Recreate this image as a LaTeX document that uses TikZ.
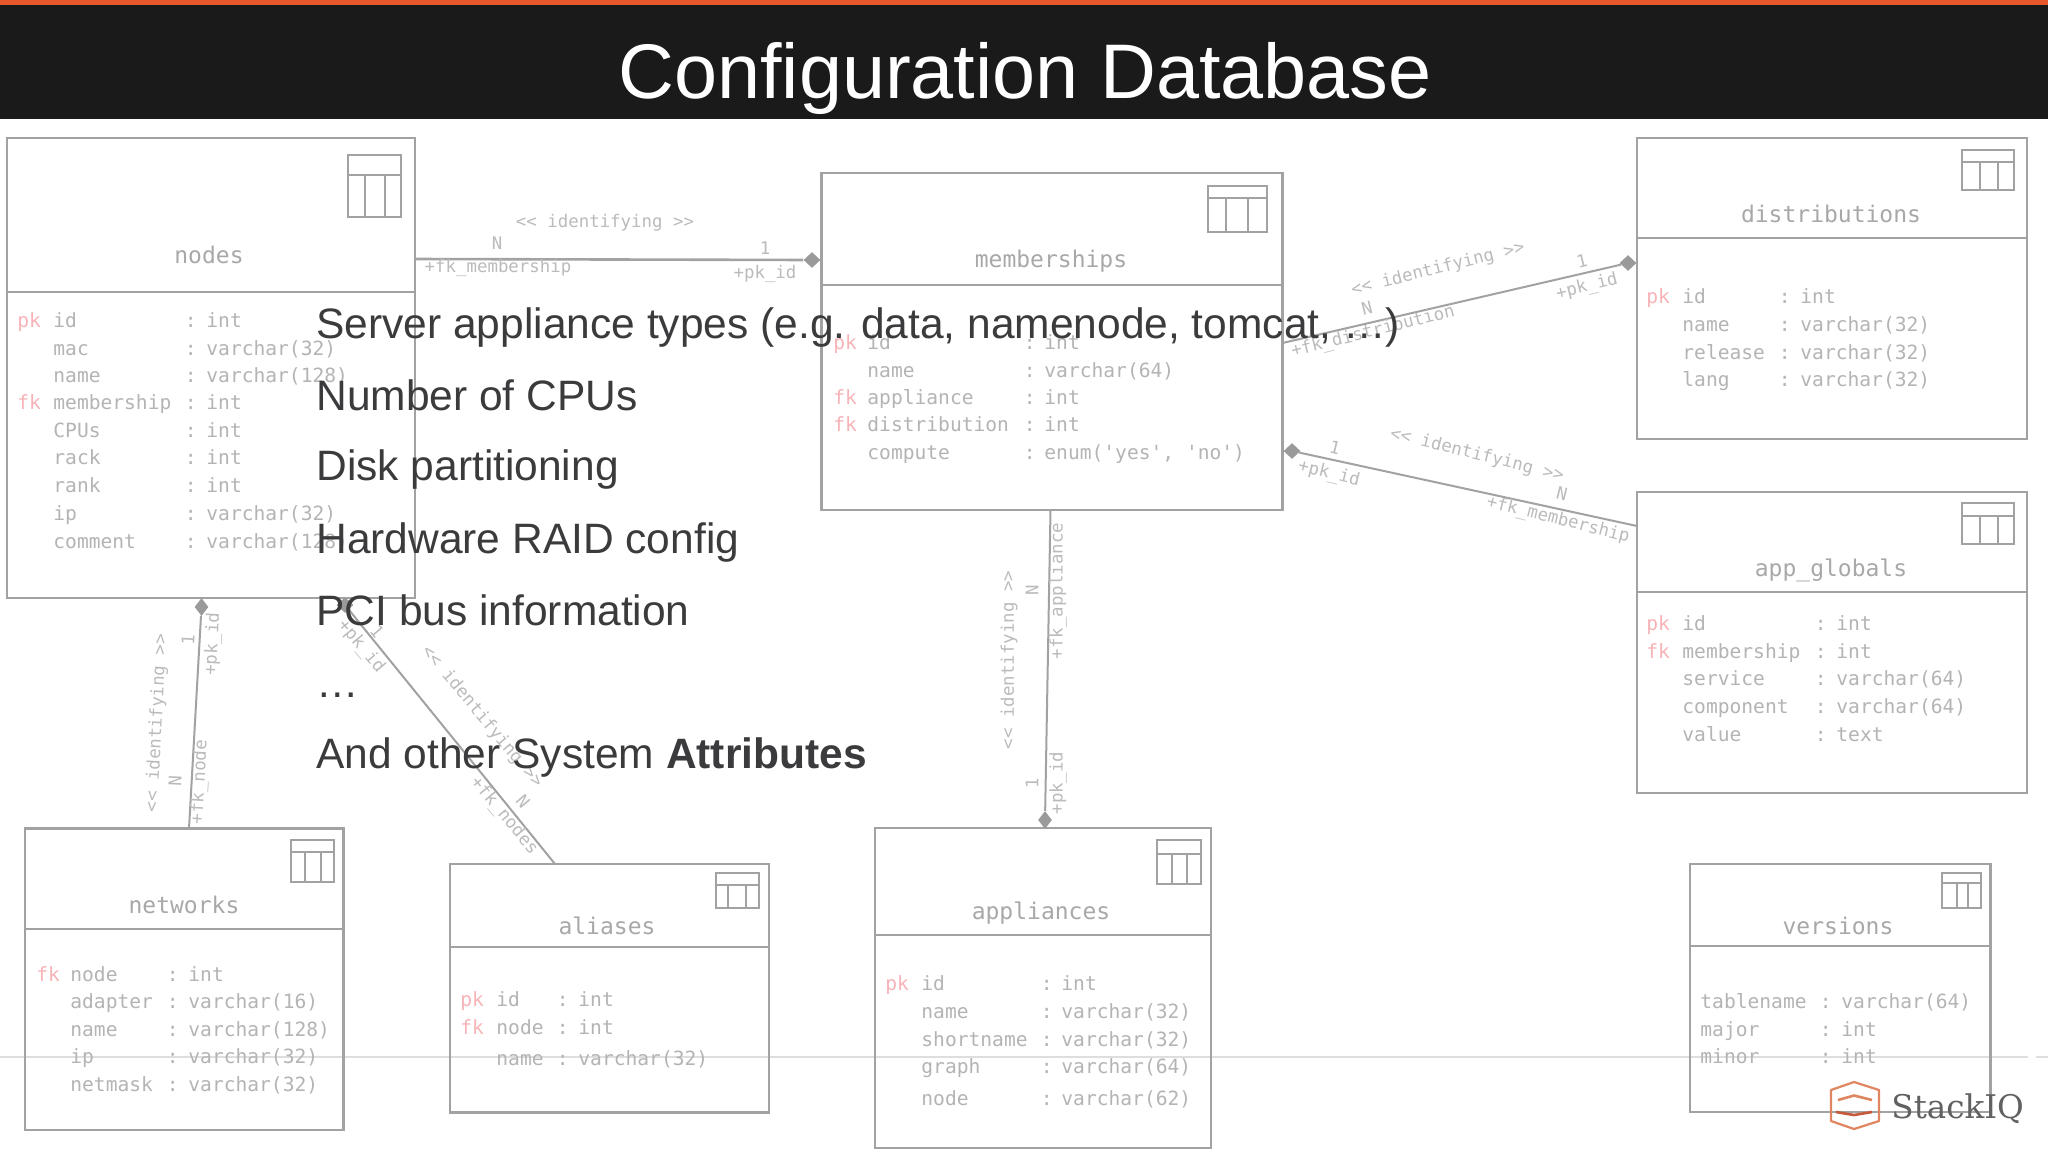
\documentclass[tikz,border=0pt]{standalone}
\usepackage{fontspec}
\setmainfont{Liberation Sans}
\newfontfamily\dbfont{DejaVu Sans Mono}
\newfontfamily\logofont{DejaVu Serif}
\usetikzlibrary{calc,shapes.geometric}
\definecolor{bar}{HTML}{1A1A1A}
\definecolor{accent}{HTML}{E8582A}
\definecolor{dbline}{HTML}{A2A2A2}
\definecolor{dbtext}{HTML}{B4B4B4}
\definecolor{dbtitle}{HTML}{A8A8A8}
\definecolor{dbkey}{HTML}{F7B3B8}
\definecolor{dblabel}{HTML}{BBBBBB}
\definecolor{dbdia}{HTML}{9A9A9A}
\definecolor{ink}{HTML}{3B3B3D}
\definecolor{logoorange}{HTML}{DF8560}
\definecolor{logodeep}{HTML}{C85A3C}
\tikzset{
  tablebox/.style={draw=dbline,line width=1.1pt,inner sep=0pt,outer sep=0pt},
  divider/.style={draw=dbline,line width=1.1pt},
  iconline/.style={draw=dbline,line width=1pt},
  conn/.style={draw=dbline,line width=1pt},
  rowtext/.style={inner sep=0pt,anchor=base west,font=\dbfont\fontsize{9.8pt}{11pt}\selectfont,text=dbtext},
  keytext/.style={rowtext,text=dbkey},
  tabletitle/.style={inner sep=0pt,anchor=base,font=\dbfont\fontsize{11.5pt}{13pt}\selectfont,text=dbtitle},
  rellabel/.style={inner sep=0pt,font=\dbfont\fontsize{8.7pt}{10pt}\selectfont,text=dblabel},
  dia/.style={diamond,fill=dbdia,inner sep=0pt,minimum width=8.5pt,minimum height=8pt,aspect=1},
  bullet/.style={inner sep=0pt,anchor=base west,font=\fontsize{21.25pt}{25pt}\selectfont,text=ink},
}
\newcount\txtc
\newcommand{\dbbox}[6]{% name x1 y1 x2 y2 header-y
  \node[tablebox,minimum width={(#4-#2)*0.5pt},minimum height={(#5-#3)*0.5pt}] (#1) at ({(#2+#4)/2},{(#3+#5)/2}) {};
  \draw[divider] (#1.west |- 0,#6) -- (#1.east |- 0,#6);
}
\newcommand{\dbicon}[7]{% x1 y1 x2 y2 line-y v1 v2
  \draw[iconline] (#1,#2) rectangle (#3,#4);
  \draw[iconline] (#1,#5) -- (#3,#5) (#6,#5) -- (#6,#4) (#7,#5) -- (#7,#4);
}
\newcommand{\dbtitle}[3]{% x y text
  \global\advance\txtc by 1
  \node[tabletitle] (t\the\txtc) at (#1,#2+15) {#3};
}
\newcommand{\dbcols}[4]{\def\Kx{#1}\def\Nx{#2}\def\Cx{#3}\def\Tx{#4}}
\newcommand{\dbrow}[4]{% key y name type
  \global\advance\txtc by 1
  \node[keytext] (k\the\txtc) at (\Kx,#2+6.5) {#1};
  \node[rowtext] (n\the\txtc) at (\Nx,#2+6.5) {#3};
  \node[rowtext] (c\the\txtc) at (\Cx-1.5,#2+6.5) {:};
  \node[rowtext] (v\the\txtc) at (\Tx-1,#2+6.5) {#4};
}
\newcommand{\rel}[4]{% x y rot text
  \global\advance\txtc by 1
  \node[rellabel,rotate=#3] (l\the\txtc) at (#1,#2) {#4};
}
\begin{document}
\begin{tikzpicture}[x=0.5pt,y=-0.5pt]
\useasboundingbox (0,0) rectangle (2048,1152);
\fill[white] (0,0) rectangle (2048,1152);
% faint slide rule
\draw[draw=black!13,line width=0.9pt] (0,1057) -- (2028,1057) (2036,1057) -- (2048,1057);

% tables
\dbbox{nodes}{7}{138}{415}{598}{292}
\dbicon{348}{155}{401}{217}{175}{365}{385}
\dbtitle{209}{248}{nodes}
\dbcols{17}{53}{186}{207}
\dbrow{pk}{321}{id}{int}
\dbrow{}{349}{mac}{varchar(32)}
\dbrow{}{376}{name}{varchar(128)}
\dbrow{fk}{403}{membership}{int}
\dbrow{}{431}{CPUs}{int}
\dbrow{}{458}{rack}{int}
\dbrow{}{486}{rank}{int}
\dbrow{}{514}{ip}{varchar(32)}
\dbrow{}{542}{comment}{varchar(128)}

\dbbox{memberships}{821.5}{173}{1282.5}{510}{285}
\dbicon{1208}{186}{1267}{232}{198}{1226}{1248}
\dbtitle{1051}{252}{memberships}
\dbcols{833}{867}{1025}{1045}
\dbrow{pk}{343}{id}{int}
\dbrow{}{371}{name}{varchar(64)}
\dbrow{fk}{398}{appliance}{int}
\dbrow{fk}{425}{distribution}{int}
\dbrow{}{453}{compute}{enum('yes', 'no')}

\dbbox{distributions}{1637}{138}{2027}{439}{238}
\dbicon{1962}{150}{2014}{190}{162}{1980}{1998}
\dbtitle{1831}{207}{distributions}
\dbcols{1646}{1682}{1780}{1801}
\dbrow{pk}{297}{id}{int}
\dbrow{}{325}{name}{varchar(32)}
\dbrow{}{353}{release}{varchar(32)}
\dbrow{}{380}{lang}{varchar(32)}

\dbbox{appglobals}{1637}{492}{2027}{793}{592}
\dbicon{1962}{503}{2014}{544}{516}{1980}{1998}
\dbtitle{1831}{561}{app\_globals}
\dbcols{1646}{1682}{1816}{1837}
\dbrow{pk}{624}{id}{int}
\dbrow{fk}{652}{membership}{int}
\dbrow{}{679}{service}{varchar(64)}
\dbrow{}{707}{component}{varchar(64)}
\dbrow{}{735}{value}{text}

\dbbox{networks}{25}{828.5}{343.5}{1130}{929}
\dbicon{291}{840}{334}{882}{852}{305}{321}
\dbtitle{184}{898}{networks}
\dbcols{36}{70}{168}{189}
\dbrow{fk}{975}{node}{int}
\dbrow{}{1002}{adapter}{varchar(16)}
\dbrow{}{1030}{name}{varchar(128)}
\dbrow{}{1057}{ip}{varchar(32)}
\dbrow{}{1085}{netmask}{varchar(32)}

\dbbox{aliases}{450}{864}{769}{1112.5}{947}
\dbicon{716}{873}{759}{908}{885}{728}{746}
\dbtitle{607}{919}{aliases}
\dbcols{460}{496}{558}{579}
\dbrow{pk}{1000}{id}{int}
\dbrow{fk}{1028}{node}{int}
\dbrow{}{1059}{name}{varchar(32)}

\dbbox{appliances}{875}{828}{1211}{1148}{935}
\dbicon{1157}{840}{1200.5}{884}{854}{1172}{1187}
\dbtitle{1041}{904}{appliances}
\dbcols{885}{921}{1042}{1062}
\dbrow{pk}{984}{id}{int}
\dbrow{}{1012}{name}{varchar(32)}
\dbrow{}{1040}{shortname}{varchar(32)}
\dbrow{}{1067}{graph}{varchar(64)}
\dbrow{}{1099}{node}{varchar(62)}

\dbbox{versions}{1690}{864}{1990.5}{1112}{946}
\dbicon{1942}{873}{1981}{908}{883}{1957}{1968}
\dbtitle{1838}{919}{versions}
\dbcols{1700}{1700}{1821}{1842}
\dbrow{}{1002}{tablename}{varchar(64)}
\dbrow{}{1030}{major}{int}
\dbrow{}{1057}{minor}{int}

% connectors: diamonds mark the "1" end
\node[dia] (d1) at (812,260) {};
\draw[conn,line width=1.3pt] ($(nodes.north east)+(0,121)$) -- (d1);
\rel{605}{223}{0}{<< identifying >>}
\rel{497}{243}{0}{N}
\rel{765}{248}{0}{1}
\rel{498}{268}{0}{+fk\_membership}
\rel{765}{274}{0}{+pk\_id}

\node[dia] (d2) at (1628,263) {};
\draw[conn] ($(memberships.north east)+(0,170)$) -- (d2);
\rel{1438}{269}{14}{<< identifying >>}
\rel{1367}{308}{14}{N}
\rel{1582}{261}{14}{1}
\rel{1587}{287}{14}{+pk\_id}
\rel{1373}{332}{14}{+fk\_distribution}

\node[dia] (d3) at (1292,451) {};
\draw[conn] ($(appglobals.north west)+(0,34)$) -- (d3);
\rel{1477}{455}{-14}{<< identifying >>}
\rel{1562}{494}{-14}{N}
\rel{1335}{448}{-14}{1}
\rel{1329}{474}{-14}{+pk\_id}
\rel{1558}{520}{-14}{+fk\_membership}

\node[dia,minimum width=7pt,minimum height=9pt] (d4) at (1045,820) {};
\draw[conn] ($(memberships.south west)+(229,0)$) -- (d4);
\rel{1009}{660}{90}{<< identifying >>}
\rel{1032}{590}{90}{N}
\rel{1058}{591}{90}{+fk\_appliance}
\rel{1032}{783}{90}{1}
\rel{1058}{783}{90}{+pk\_id}

\node[dia,minimum width=7pt,minimum height=9pt] (d5) at (201.5,607) {};
\draw[conn] ($(networks.north west)+(164,0)$) -- (d5);
\rel{157}{723}{87}{<< identifying >>}
\rel{175}{781}{87}{N}
\rel{188}{640}{87}{1}
\rel{213}{644}{87}{+pk\_id}
\rel{200}{782}{87}{+fk\_node}

\node[dia] (d6) at (345,605) {};
\draw[conn] ($(aliases.north west)+(105,0)$) -- (d6);
\rel{482}{717}{-50}{<< identifying >>}
\rel{523}{801}{-50}{N}
\rel{377}{631}{-50}{1}
\rel{361}{647}{-50}{+pk\_id}
\rel{504}{816}{-50}{+fk\_nodes}

% title bar
\fill[bar] (0,0) rectangle (2048,119);
\fill[accent] (0,0) rectangle (2048,5);
\node[inner sep=0pt,anchor=base,font=\fontsize{38.7pt}{44pt}\selectfont,text=white] (title) at (1025,98) {Configuration Database};

% overlay text
\node[bullet] (b1) at (316,338) {Server appliance types (e.g. data, namenode, tomcat, …)};
\node[bullet] (b2) at (316,410) {Number of CPUs};
\node[bullet] (b3) at (316,480) {Disk partitioning};
\node[bullet] (b4) at (316,553) {Hardware RAID config};
\node[bullet] (b5) at (316,625) {PCI bus information};
\node[bullet] (b6) at (316,697) {…};
\node[bullet] (b7) at (316,768) {And other System \textbf{Attributes}};

% logo
\draw[logoorange,line width=1.1pt,line join=round] (1854,1082) -- (1879,1090) -- (1879,1121) -- (1854,1129) -- (1831,1121) -- (1831,1090) -- cycle;
\draw[logoorange,line width=1.3pt] (1838,1100) -- (1854,1095.5) -- (1872,1100);
\draw[logodeep,line width=1.3pt] (1836,1112) -- (1854,1115) -- (1872,1112);
\node[inner sep=0pt,anchor=base west,font=\logofont\fontsize{16.3pt}{18pt}\selectfont,text=black!62] (logo) at (1891,1118) {StackIQ};
\end{tikzpicture}
\end{document}
